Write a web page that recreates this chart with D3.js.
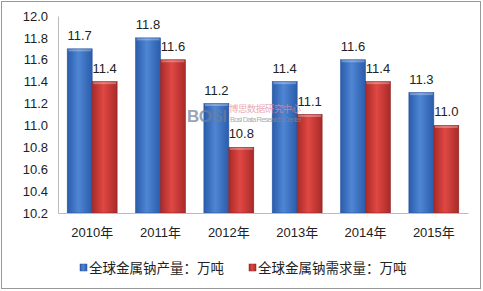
<!DOCTYPE html>
<html><head><meta charset="utf-8">
<script src="https://cdn.jsdelivr.net/npm/d3@7"></script>
<style>body{margin:0;background:#fff}svg{display:block}text{font-family:"Liberation Sans","DejaVu Sans","Noto Sans CJK SC",sans-serif}</style>
</head><body>
<script>
const categories = ["2010年","2011年","2012年","2013年","2014年","2015年"];
const production = [11.7, 11.8, 11.2, 11.4, 11.6, 11.3];
const demand = [11.4, 11.6, 10.8, 11.1, 11.4, 11.0];
const seriesNames = ["全球金属钠产量：万吨","全球金属钠需求量：万吨"];
const yTicks = [10.2,10.4,10.6,10.8,11.0,11.2,11.4,11.6,11.8,12.0];

const W=483,H=291;
const svg=d3.select("body").append("svg").attr("width",W).attr("height",H);
const defs=svg.append("defs");
function grad(id,edge,mid){
  const g=defs.append("linearGradient").attr("id",id).attr("x1","0").attr("x2","1").attr("y1","0").attr("y2","0");
  g.append("stop").attr("offset","0").attr("stop-color",edge);
  g.append("stop").attr("offset","0.45").attr("stop-color",mid);
  g.append("stop").attr("offset","1").attr("stop-color",edge);
}
grad("gBlue","#2a5caa","#4f86d4");
grad("gRed","#a82a28","#e04844");

svg.append("rect").attr("x",1.5).attr("y",1.5).attr("width",W-4).attr("height",H-4).attr("fill","#fff").attr("stroke","#999");

const x=d3.scaleBand().domain(categories).range([58,468]).paddingInner(0.27).paddingOuter(0.135);
const xs=d3.scaleBand().domain([0,1]).range([0,x.bandwidth()]);
const y=d3.scaleLinear().domain([10.2,12.0]).range([213,16]);

// axes
const ya=svg.append("g").attr("transform","translate(58,0)").call(d3.axisLeft(y).tickValues(yTicks).tickFormat(d3.format(".1f")).tickSize(0).tickPadding(10));
ya.select(".domain").attr("stroke","#bbb");
ya.selectAll("text").attr("font-size",13).attr("fill","#222");

const series=[production,demand];
const fills=["url(#gBlue)","url(#gRed)"];
const strokes=["#2a55a0","#8e2422"];
series.forEach((vals,si)=>{
  const g=svg.append("g");
  g.selectAll("rect").data(vals).join("rect")
    .attr("x",(d,i)=>x(categories[i])+xs(si))
    .attr("y",d=>y(d))
    .attr("width",xs.bandwidth())
    .attr("height",d=>y(10.2)-y(d))
    .attr("fill",fills[si]).attr("stroke",strokes[si]).attr("stroke-width",0.6);
  g.selectAll("rect.hl").data(vals).join("rect").attr("class","hl")
    .attr("x",(d,i)=>x(categories[i])+xs(si)+1)
    .attr("y",d=>y(d)+0.5)
    .attr("width",xs.bandwidth()-2).attr("height",2)
    .attr("fill","#fff").attr("opacity",0.3);
  g.selectAll("text").data(vals).join("text")
    .attr("x",(d,i)=>x(categories[i])+xs(si)+xs.bandwidth()/2)
    .attr("y",d=>y(d)-9)
    .attr("text-anchor","middle").attr("font-size",13).attr("fill","#222")
    .text(d=>d3.format(".1f")(d));
});

const xa=svg.append("g").attr("transform","translate(0,213)").call(d3.axisBottom(x).tickSize(0).tickPadding(15));
xa.select(".domain").attr("stroke","#bbb");
xa.selectAll("text").attr("font-size",13).attr("fill","#222");

// watermark
const wm=svg.append("g").attr("opacity",0.7);
wm.append("text").attr("x",187).attr("y",122).attr("font-size",17).attr("font-weight","bold").attr("fill","#6d7f99").attr("textLength",40).text("BOSI");
wm.append("text").attr("x",229).attr("y",112).attr("font-size",9.5).attr("fill","#e58a9a").attr("textLength",72).text("博思数据研究中心");
wm.append("text").attr("x",230).attr("y",122).attr("font-size",7.5).attr("fill","#8a8a8a").attr("textLength",72).text("Bosi Data Research Center");

// legend
const lg=svg.append("g");
const lx=[80,249];
seriesNames.forEach((n,i)=>{
  lg.append("rect").attr("x",lx[i]).attr("y",264).attr("width",7).attr("height",7).attr("fill",fills[i]).attr("stroke",strokes[i]).attr("stroke-width",0.5);
  lg.append("text").attr("x",lx[i]+9).attr("y",273).attr("font-size",13.5).attr("font-family","Noto Sans CJK SC").attr("fill","#222").text(n);
});
</script>
</body></html>
